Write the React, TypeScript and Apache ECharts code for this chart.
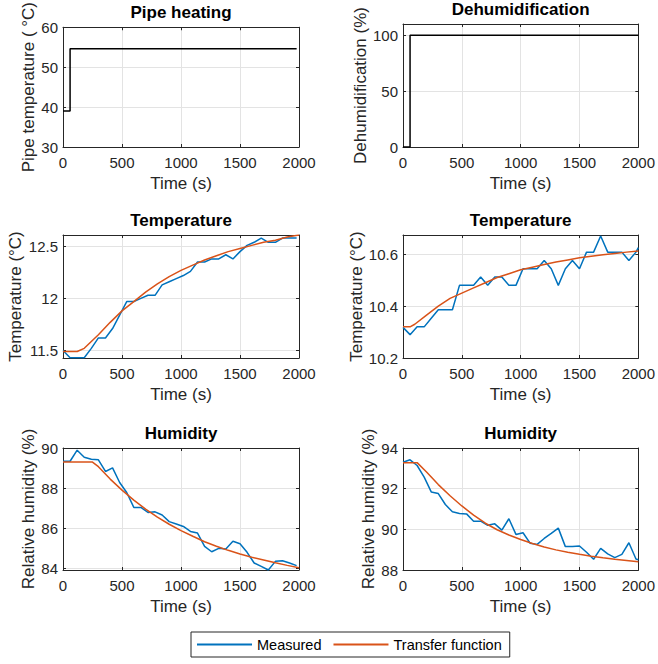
import React, { useEffect, useRef } from "react";
import * as echarts from "echarts";

const FONT = "Liberation Sans, Arial, Helvetica, sans-serif";
const BLUE = "#0072BD";
const ORANGE = "#D95319";
const AXIS = "#262626";
const GRIDC = "#e3e3e3";

// Measurement time stamps (s)
const tMeas = [0, 60, 120, 180, 240, 300, 360, 420, 480, 540, 600, 660, 720, 780, 840, 900, 960, 1020, 1080, 1140, 1200, 1260, 1320, 1380, 1440, 1500, 1560, 1620, 1680, 1740, 1800, 1860, 1920, 1980];
const tMeasEnd = [0, 60, 120, 180, 240, 300, 360, 420, 480, 540, 600, 660, 720, 780, 840, 900, 960, 1020, 1080, 1140, 1200, 1260, 1320, 1380, 1440, 1500, 1560, 1620, 1680, 1740, 1800, 1860, 1920, 1980, 2000];

// Inputs
const pipeT = [0, 60, 1980];
const pipeV = [39, 54.6, 54.6];
const dehumT = [0, 60, 2000];
const dehumV = [0, 100, 100];

// Temperature (left)
const tempAMeas = [11.5, 11.43, 11.43, 11.43, 11.52, 11.62, 11.62, 11.71, 11.84, 11.97, 11.97, 12.0, 12.03, 12.03, 12.13, 12.16, 12.19, 12.22, 12.26, 12.35, 12.35, 12.38, 12.38, 12.42, 12.38, 12.45, 12.51, 12.54, 12.58, 12.54, 12.54, 12.58, 12.58, 12.58];
const tempATfT = [0, 120, 180, 300, 400, 500, 600, 700, 800, 900, 1000, 1100, 1200, 1300, 1400, 1500, 1600, 1700, 1800, 1900, 2000];
const tempATf = [11.49, 11.49, 11.52, 11.65, 11.77, 11.88, 11.97, 12.06, 12.14, 12.21, 12.27, 12.32, 12.37, 12.41, 12.45, 12.48, 12.51, 12.54, 12.56, 12.59, 12.61];

// Temperature (right)
const tempBMeas = [10.318, 10.29, 10.32, 10.32, 10.353, 10.386, 10.386, 10.386, 10.48, 10.48, 10.48, 10.512, 10.48, 10.512, 10.512, 10.48, 10.48, 10.544, 10.544, 10.544, 10.576, 10.544, 10.48, 10.544, 10.576, 10.544, 10.608, 10.608, 10.67, 10.608, 10.608, 10.608, 10.576, 10.608, 10.625];
const tempBTfT = [0, 60, 100, 200, 300, 400, 500, 600, 700, 800, 900, 1000, 1100, 1200, 1300, 1400, 1500, 1600, 1700, 1800, 1900, 2000];
const tempBTf = [10.32, 10.32, 10.33, 10.365, 10.4, 10.43, 10.45, 10.47, 10.49, 10.51, 10.525, 10.54, 10.55, 10.56, 10.57, 10.578, 10.586, 10.592, 10.598, 10.603, 10.608, 10.612];

// Humidity (left)
const humAMeas = [89.34, 89.34, 89.89, 89.54, 89.44, 89.41, 88.83, 89.01, 88.28, 87.78, 87.04, 87.04, 86.79, 86.82, 86.66, 86.33, 86.21, 86.09, 85.84, 85.76, 85.1, 84.83, 85.0, 84.97, 85.35, 85.23, 84.8, 84.27, 84.1, 83.92, 84.35, 84.38, 84.27, 84.14];
const humATfT = [0, 250, 300, 400, 500, 600, 700, 800, 900, 1000, 1100, 1200, 1300, 1400, 1500, 1600, 1700, 1800, 1900, 2000];
const humATf = [89.3, 89.3, 89.07, 88.45, 87.9, 87.4, 86.95, 86.55, 86.2, 85.88, 85.6, 85.33, 85.1, 84.9, 84.72, 84.56, 84.42, 84.28, 84.15, 84.03];

// Humidity (right)
const humBMeas = [93.3, 93.42, 93.14, 92.57, 91.84, 91.76, 91.22, 90.86, 90.78, 90.76, 90.4, 90.4, 90.2, 90.27, 89.96, 90.52, 89.75, 89.83, 89.32, 89.26, 89.55, 89.8, 90.06, 89.15, 89.15, 89.18, 88.87, 88.53, 89.06, 88.79, 88.61, 88.77, 89.34, 88.54, 88.5];
const humBTfT = [0, 120, 200, 300, 400, 500, 600, 700, 800, 900, 1000, 1100, 1200, 1300, 1400, 1500, 1600, 1700, 1800, 1900, 2000];
const humBTf = [93.28, 93.28, 92.82, 92.2, 91.65, 91.15, 90.7, 90.3, 89.98, 89.72, 89.5, 89.3, 89.13, 88.99, 88.87, 88.77, 88.68, 88.6, 88.53, 88.47, 88.41];

// Axis ticks
const xTicks = [0, 500, 1000, 1500, 2000];
const yTicks1 = [30, 40, 50, 60];
const yTicks2 = [0, 50, 100];
const yTicks3 = [11.5, 12, 12.5];
const yTicks4 = [10.2, 10.4, 10.6];
const yTicks5 = [84, 86, 88, 90];
const yTicks6 = [88, 90, 92, 94];

const zip = (t: number[], v: number[]) => t.map((x, i) => [x, v[i]]);
const fmt = (v: number) => String(Math.round(v * 1000) / 1000);

type Panel = {
  title: string;
  yName: string;
  yMin: number;
  yMax: number;
  yTicks: number[];
  left: number;
  top: number;
  height: number;
  nameGap: number;
};

const panels: Panel[] = [
  { title: "Pipe heating", yName: "Pipe temperature ( °C)", yMin: 30, yMax: 60, yTicks: yTicks1, left: 63, top: 24, height: 123, nameGap: 25 },
  { title: "Dehumidification", yName: "Dehumidification (%)", yMin: 0, yMax: 110, yTicks: yTicks2, left: 403, top: 24, height: 123, nameGap: 34 },
  { title: "Temperature", yName: "Temperature (°C)", yMin: 11.427, yMax: 12.61, yTicks: yTicks3, left: 63, top: 235, height: 123, nameGap: 39 },
  { title: "Temperature", yName: "Temperature (°C)", yMin: 10.2, yMax: 10.674, yTicks: yTicks4, left: 403, top: 235, height: 123, nameGap: 38 },
  { title: "Humidity", yName: "Relative humidity (%)", yMin: 83.92, yMax: 90, yTicks: yTicks5, left: 63, top: 448, height: 122, nameGap: 26 },
  { title: "Humidity", yName: "Relative humidity (%)", yMin: 88, yMax: 94, yTicks: yTicks6, left: 403, top: 448, height: 122, nameGap: 26 },
];

export default function App() {
  const ref = useRef<HTMLDivElement>(null);
  useEffect(() => {
    if (!ref.current) return;
    const chart = echarts.init(ref.current, undefined, { renderer: "svg" });

    const grids: any[] = [];
    const xAxes: any[] = [];
    const yAxes: any[] = [];
    panels.forEach((p, i) => {
      grids.push({ left: p.left, top: p.top, width: 236, height: p.height, containLabel: false });
      const tickStyle = { inside: true, length: 3, lineStyle: { color: AXIS, width: 1 } };
      const lineStyle = { show: true, onZero: false, lineStyle: { color: AXIS, width: 1 } };
      xAxes.push({
        gridIndex: i, type: "value", min: 0, max: 2000, position: "bottom",
        axisLine: lineStyle,
        axisTick: { ...tickStyle, customValues: xTicks },
        axisLabel: { customValues: xTicks, formatter: fmt, color: AXIS, fontSize: 15, fontFamily: FONT, margin: 8 },
        splitLine: { show: true, lineStyle: { color: GRIDC, width: 1 } },
        name: "Time (s)", nameLocation: "middle", nameGap: 28,
        nameTextStyle: { fontSize: 17, color: AXIS, fontFamily: FONT },
      });
      xAxes.push({
        gridIndex: i, type: "value", min: 0, max: 2000, position: "top",
        axisLine: lineStyle,
        axisTick: { ...tickStyle, customValues: xTicks },
        axisLabel: { show: false },
        splitLine: { show: false },
        name: p.title, nameLocation: "middle", nameGap: 6,
        nameTextStyle: { fontSize: 17, fontWeight: "bold", color: "#000", fontFamily: FONT },
      });
      yAxes.push({
        gridIndex: i, type: "value", min: p.yMin, max: p.yMax, position: "left",
        axisLine: lineStyle,
        axisTick: { ...tickStyle, customValues: p.yTicks },
        axisLabel: { customValues: p.yTicks, formatter: fmt, color: AXIS, fontSize: 15, fontFamily: FONT, margin: 5 },
        splitLine: { show: true, lineStyle: { color: GRIDC, width: 1 } },
        name: p.yName, nameLocation: "middle", nameGap: p.nameGap,
        nameTextStyle: { fontSize: 17, color: AXIS, fontFamily: FONT },
      });
      yAxes.push({
        gridIndex: i, type: "value", min: p.yMin, max: p.yMax, position: "right",
        axisLine: lineStyle,
        axisTick: { ...tickStyle, customValues: p.yTicks },
        axisLabel: { show: false },
        splitLine: { show: false },
      });
    });

    const lineSeries = (name: string, i: number, data: number[][], color: string, extra: any = {}) => ({
      name, type: "line", xAxisIndex: 2 * i, yAxisIndex: 2 * i, data,
      symbol: "none", showSymbol: false, clip: true,
      lineStyle: { color, width: 1.5 }, itemStyle: { color },
      emphasis: { disabled: true }, ...extra,
    });

    const series = [
      lineSeries("Pipe", 0, zip(pipeT, pipeV), "#000", { step: "end" }),
      lineSeries("Dehum", 1, zip(dehumT, dehumV), "#000", { step: "end" }),
      lineSeries("Measured", 2, zip(tMeas, tempAMeas), BLUE),
      lineSeries("Transfer function", 2, zip(tempATfT, tempATf), ORANGE),
      lineSeries("Measured", 3, zip(tMeasEnd, tempBMeas), BLUE),
      lineSeries("Transfer function", 3, zip(tempBTfT, tempBTf), ORANGE),
      lineSeries("Measured", 4, zip(tMeas, humAMeas), BLUE),
      lineSeries("Transfer function", 4, zip(humATfT, humATf), ORANGE),
      lineSeries("Measured", 5, zip(tMeasEnd, humBMeas), BLUE),
      lineSeries("Transfer function", 5, zip(humBTfT, humBTf), ORANGE),
    ];

    chart.setOption({
      animation: false,
      backgroundColor: "#fff",
      textStyle: { fontFamily: FONT },
      grid: grids,
      xAxis: xAxes,
      yAxis: yAxes,
      legend: {
        data: ["Measured", "Transfer function"],
        left: 191, top: 632, orient: "horizontal",
        icon: "rect", itemWidth: 55, itemHeight: 2, itemGap: 12,
        padding: [5, 8, 5, 6],
        borderColor: AXIS, borderWidth: 1,
        selectedMode: false,
        textStyle: { fontSize: 14.5, color: "#000", fontFamily: FONT },
      },
      series,
    });
    return () => chart.dispose();
  }, []);
  return <div ref={ref} style={{ position: "absolute", left: 0, top: 0, width: 658, height: 664 }} />;
}
